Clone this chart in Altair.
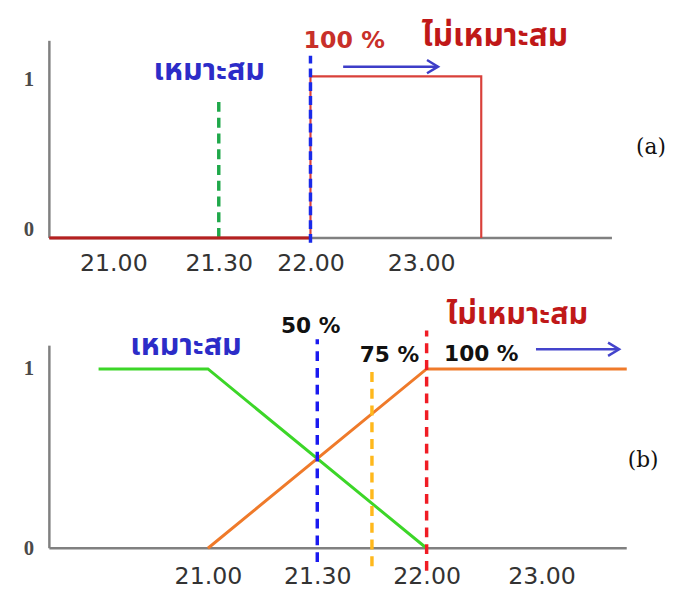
import altair as alt
import pandas as pd

# ---------------- data ----------------
tick_labels = ["21.00", "21.30", "22.00", "23.00"]
# panel (a): positions of the labelled times on its own axis
ticks_a = [1.0, 2.0, 2.87, 3.92]
step_a_x = [0.393, 2.87, 2.87, 4.49, 4.49]
step_a_y = [0, 0, 1, 1, 0]
# panel (b)
ticks_b = [1.0, 2.0, 3.0, 4.05]
suit_x = [0.0, 1.0, 3.0]
suit_y = [1, 1, 0]
unsuit_x = [1.0, 3.0, 4.83]
unsuit_y = [0, 1, 1]

THAI = "Tahoma, 'Noto Sans Thai', Loma, Garuda, 'Noto Sans', sans-serif"
SANS = "'DejaVu Sans', Arial, sans-serif"

W = 621
XA = [0.393, 6.196]
XB = [-0.45, 5.144]


def xaxis(ticks, pad):
    expr = " : ".join(
        [f"datum.value == {v} ? '{l}'" for v, l in zip(ticks, tick_labels)]
    ) + " : ''"
    return alt.Axis(values=ticks, labelExpr=expr, domain=False, ticks=False,
                    grid=False, title=None, labelFont=SANS, labelFontSize=24,
                    labelColor="#333333", labelPadding=pad, minExtent=40,
                    maxExtent=40, labelFlush=False)


def yaxis(offset_cond):
    return alt.Axis(values=[0, 1], format="d", domain=False, ticks=False,
                    grid=False, title=None, labelFont="Liberation Serif",
                    labelFontWeight="bold", labelFontSize=21,
                    labelColor="#4a4a4a", labelPadding=16, minExtent=42,
                    maxExtent=42, labelOffset=offset_cond)


def make_txt(X, Y):
    def txt(x, y, t, color, font, size, weight="normal"):
        return alt.Chart(pd.DataFrame({"x": [x], "y": [y], "t": [t]})).mark_text(
            color=color, font=font, fontSize=size, fontWeight=weight, baseline="middle",
            align="center").encode(x=X("x"), y=Y("y"), text="t:N")
    return txt


def panel_a():
    ydom = [0, 1.396]
    X = lambda f: alt.X(f, type="quantitative", scale=alt.Scale(domain=XA, nice=False, zero=False),
                        axis=xaxis(ticks_a, 14))
    Y = lambda f: alt.Y(f, type="quantitative", scale=alt.Scale(domain=ydom, nice=False),
                        axis=yaxis({"condition": {"test": "datum.value == 0", "value": -8}, "value": 3}))
    ax = pd.DataFrame({"x": [XA[0], 5.73], "y": [0, 0]})
    ay = pd.DataFrame({"x": [XA[0], XA[0]], "y": [0, 1.22]})
    axis_x = alt.Chart(ax).mark_line(color="#808080", strokeWidth=2.5).encode(x=X("x"), y=Y("y"))
    axis_y = alt.Chart(ay).mark_line(color="#808080", strokeWidth=2.5).encode(x=X("x"), y=Y("y"))
    step = alt.Chart(pd.DataFrame({"x": step_a_x, "y": step_a_y, "o": range(5)})).mark_line(
        color="#d9403a", strokeWidth=2.2).encode(x=X("x"), y=Y("y"), order="o")
    base_red = alt.Chart(pd.DataFrame({"x": [XA[0], 2.87], "y": [0, 0]})).mark_line(
        color="#b52020", strokeWidth=3).encode(x=X("x"), y=Y("y"))
    green = alt.Chart(pd.DataFrame({"x": [2.0], "y": [0.0], "y2": [0.866]})).mark_rule(
        color="#1fa84a", strokeWidth=3.5, strokeDash=[10, 6]).encode(x=X("x"), y=Y("y"), y2="y2")
    blue = alt.Chart(pd.DataFrame({"x": [2.87], "y": [-0.03], "y2": [1.128]})).mark_rule(
        color="#1a2ae8", strokeWidth=3.5, strokeDash=[9, 5]).encode(x=X("x"), y=Y("y"), y2="y2")
    arrow = alt.Chart(pd.DataFrame({"x": [3.18], "x2": [4.08], "y": [1.06]})).mark_rule(
        color="#3d3dc8", strokeWidth=2.5).encode(x=X("x"), x2="x2", y=Y("y"))
    head = alt.Chart(pd.DataFrame({"x": [4.08], "y": [1.06]})).mark_point(
        shape="M -1 -0.6 L 0 0 L -1 0.6", filled=False, size=500, color="#3d3dc8",
        strokeWidth=2.5, opacity=1).encode(x=X("x"), y=Y("y"))

    txt = make_txt(X, Y)
    texts = [
        txt(3.19, 1.22, "100 %", "#c8302a", SANS, 24, "bold"),
        txt(4.62, 1.25, "ไม่เหมาะสม", "#c01818", THAI, 32, "bold"),
        txt(1.91, 1.03, "เหมาะสม", "#2c2cc8", THAI, 31, "bold"),
        txt(6.1, 0.56, "(a)", "#111111", "DejaVu Serif", 22),
    ]
    return alt.layer(axis_x, axis_y, green, step, base_red, blue, arrow, head, *texts).properties(
        width=W, height=229)


def panel_b():
    ydom = [0, 1.423]
    X = lambda f: alt.X(f, type="quantitative", scale=alt.Scale(domain=XB, nice=False, zero=False),
                        axis=xaxis(ticks_b, 17))
    Y = lambda f: alt.Y(f, type="quantitative", scale=alt.Scale(domain=ydom, nice=False),
                        axis=yaxis(0))
    ax = pd.DataFrame({"x": [XB[0], 4.83], "y": [0, 0]})
    ay = pd.DataFrame({"x": [XB[0], XB[0]], "y": [0, 1.13]})
    axis_x = alt.Chart(ax).mark_line(color="#808080", strokeWidth=2.5).encode(x=X("x"), y=Y("y"))
    axis_y = alt.Chart(ay).mark_line(color="#808080", strokeWidth=2.5).encode(x=X("x"), y=Y("y"))
    green = alt.Chart(pd.DataFrame({"x": suit_x, "y": suit_y, "o": range(3)})).mark_line(
        color="#3cd628", strokeWidth=3).encode(x=X("x"), y=Y("y"), order="o")
    orange = alt.Chart(pd.DataFrame({"x": unsuit_x, "y": unsuit_y, "o": range(3)})).mark_line(
        color="#ef7a2a", strokeWidth=3).encode(x=X("x"), y=Y("y"), order="o")

    def dash(x, y1, y2, color):
        return alt.Chart(pd.DataFrame({"x": [x], "y": [y1], "y2": [y2]})).mark_rule(
            color=color, strokeWidth=3.5, strokeDash=[10, 7]).encode(x=X("x"), y=Y("y"), y2="y2")

    d1 = dash(2.0, -0.077, 1.165, "#1a1af0")
    d2 = dash(2.5, -0.1, 1.0, "#ffb81c")
    d3 = dash(3.0, -0.126, 1.214, "#f01c24")
    arrow = alt.Chart(pd.DataFrame({"x": [4.0], "x2": [4.76], "y": [1.11]})).mark_rule(
        color="#4444cc", strokeWidth=2.5).encode(x=X("x"), x2="x2", y=Y("y"))
    head = alt.Chart(pd.DataFrame({"x": [4.76], "y": [1.11]})).mark_point(
        shape="M -1 -0.6 L 0 0 L -1 0.6", filled=False, size=500, color="#4444cc",
        strokeWidth=2.5, opacity=1).encode(x=X("x"), y=Y("y"))

    txt = make_txt(X, Y)
    texts = [
        txt(1.94, 1.24, "50 %", "#111111", SANS, 22, "bold"),
        txt(2.66, 1.077, "75 %", "#111111", SANS, 22, "bold"),
        txt(3.50, 1.085, "100 %", "#111111", SANS, 22, "bold"),
        txt(3.83, 1.30, "ไม่เหมาะสม", "#c01818", THAI, 31, "bold"),
        txt(0.80, 1.13, "เหมาะสม", "#2c2cc8", THAI, 31, "bold"),
        txt(4.98, 0.49, "(b)", "#111111", "DejaVu Serif", 22),
    ]
    return alt.layer(axis_x, axis_y, green, orange, d1, d2, d3, arrow, head, *texts).properties(
        width=W, height=259)


chart = alt.vconcat(panel_a(), panel_b(), spacing=16).properties(
    padding=0, background="white").configure_view(strokeWidth=0, stroke=None)

chart.save("out.html", embed_options={"renderer": "svg", "actions": False})
